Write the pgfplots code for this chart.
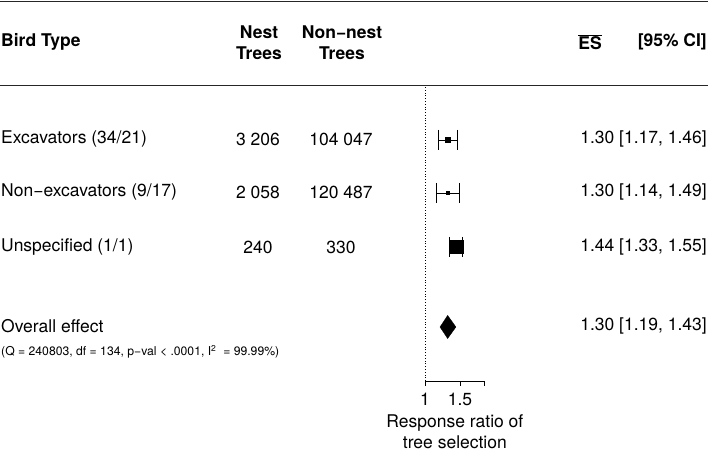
\documentclass[border=0pt]{standalone}
\usepackage{pgfplots}
\pgfplotsset{compat=1.18}
\usepackage{fontspec}
\setmainfont{TeX Gyre Heros}
\begin{document}
\fontsize{17.5bp}{21bp}\selectfont
\begin{tikzpicture}[x=1bp,y=1bp]
\path[use as bounding box] (0,0) rectangle (709,454);
% horizontal rules
\draw[line width=1bp, black!85] (0,452) -- (708,452);
\draw[line width=1bp, black!85] (0,368) -- (708,368);
\begin{scope}[every node/.append style={inner xsep=0pt}]
% column headers
\node[anchor=west, font=\bfseries] at (1,412) {Bird Type};
\node[align=center, font=\bfseries] at (259,411.5) {Nest\\Trees};
\node[align=center, font=\bfseries] at (342,411.5) {Non−nest\\Trees};
\node[anchor=center] at (590,412) {$\overline{\mbox{\bfseries ES}}$};
\node[anchor=east, font=\bfseries] at (707,412) {[95\% CI]};
% row labels
\node[anchor=west] at (1,315) {Excavators (34/21)};
\node[anchor=west] at (1,262) {Non−excavators (9/17)};
\node[anchor=west] at (1,207) {Unspecified (1/1)};
\node[anchor=west] at (1,128) {Overall effect};
\node[anchor=west, font=\fontsize{12.2bp}{14bp}\selectfont] at (1,102)
  {(Q = 240803, df = 134, p−val < .0001, I\textsuperscript{2}\ \ = 99.99\%)};
% counts
\node at (258,315) {3 206};   \node at (341,315) {104 047};
\node at (258,262) {2 058};   \node at (341,262) {120 487};
\node at (258,207) {240};     \node at (341,207) {330};
% effect sizes
\node[anchor=east] at (707,315) {1.30 [1.17, 1.46]};
\node[anchor=east] at (707,262) {1.30 [1.14, 1.49]};
\node[anchor=east] at (707,207) {1.44 [1.33, 1.55]};
\node[anchor=east] at (707,128) {1.30 [1.19, 1.43]};
\end{scope}

\begin{axis}[
    at={(425bp,73bp)}, anchor=south west,
    scale only axis,
    width=59.8bp, height=295bp,
    xmode=log,
    xmin=1, xmax=2,
    ymin=73, ymax=368,
    axis x line=bottom, axis y line=none,
    x axis line style={-, line width=0.8bp},
    xtick={1,1.5,2}, xticklabels={1,1.5,},
    minor xtick={},
    tick align=outside,
    major tick length=5bp,
    tick style={line width=0.8bp, black},
    xticklabel style={yshift=-1bp},
    xlabel={Response ratio of\\tree selection},
    xlabel style={align=center, yshift=3bp},
    clip=false,
]
\draw[dotted, line width=0.8bp] (axis cs:1,73) -- (axis cs:1,368);

% Excavators
\addplot[black, line width=0.8bp, mark=|, mark size=10bp] coordinates {(1.17,314) (1.46,314)};
\addplot[black, only marks, mark=square*, mark size=2.6bp] coordinates {(1.30,314)};
% Non-excavators
\addplot[black, line width=0.8bp, mark=|, mark size=10bp] coordinates {(1.14,261) (1.49,261)};
\addplot[black, only marks, mark=square*, mark size=1.7bp] coordinates {(1.30,261)};
% Unspecified
\addplot[black, line width=0.8bp, mark=|, mark size=10bp] coordinates {(1.33,207) (1.55,207)};
\addplot[black, only marks, mark=square*, mark size=6.4bp] coordinates {(1.44,207)};
% Overall effect
\addplot[fill=black, draw=black] coordinates {(1.19,127) (1.30,138.5) (1.43,127) (1.30,115.5) (1.19,127)};
\end{axis}
\end{tikzpicture}
\end{document}
